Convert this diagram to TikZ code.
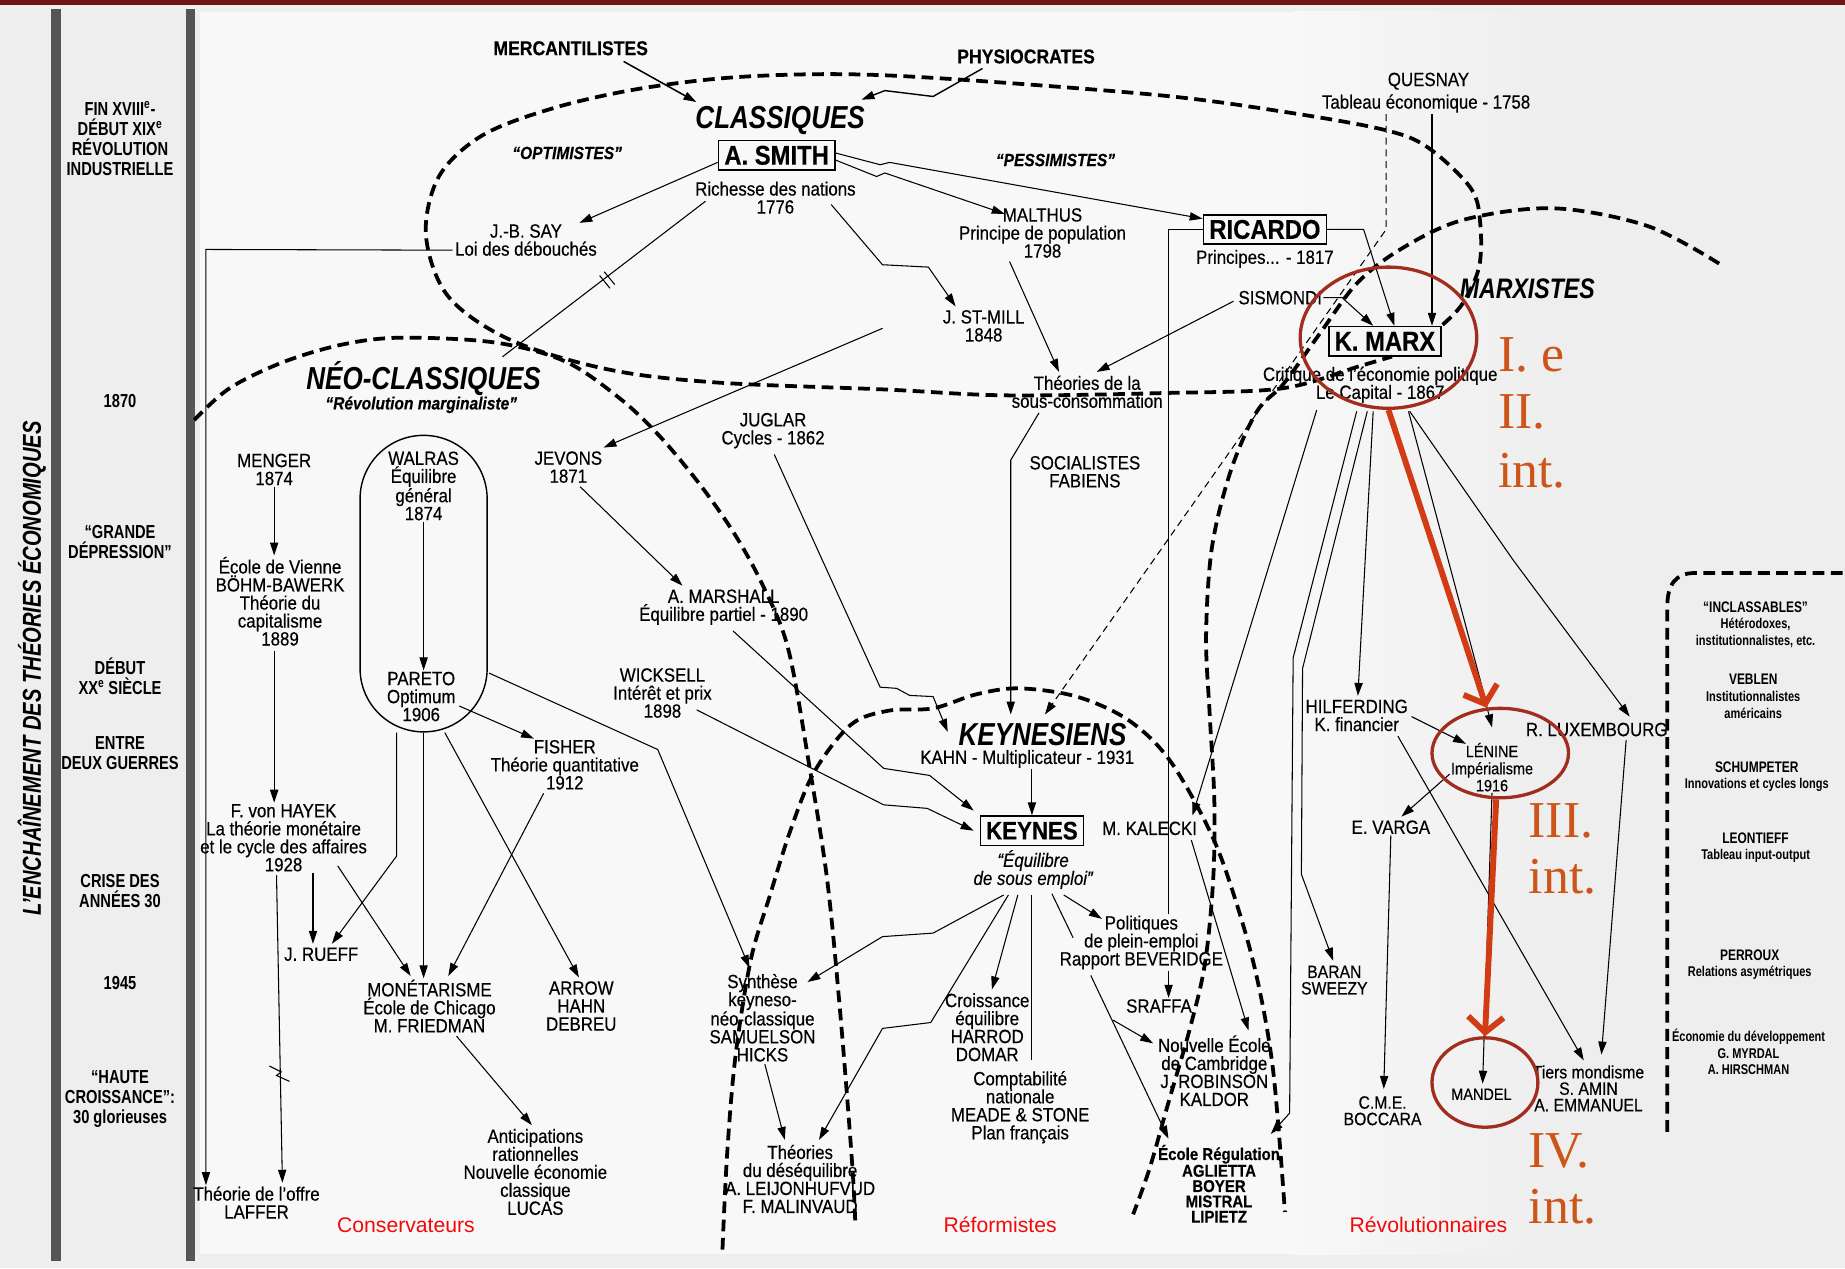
\documentclass[tikz,border=0pt]{standalone}
\usepackage{fontspec}
\setmainfont{Liberation Sans}
\newfontfamily\mainf{Liberation Sans}[FakeStretch=0.88, FakeBold=0.35]
\newfontfamily\cond{Liberation Sans}[FakeStretch=0.78]
\newfontfamily\condg{Liberation Sans}[FakeStretch=0.82]
\newfontfamily\serifred{Liberation Serif}
\usetikzlibrary{arrows.meta,calc,shapes.geometric}
\definecolor{bg}{RGB}{238,238,238}
\definecolor{barc}{RGB}{85,85,85}
\definecolor{circred}{RGB}{160,45,30}
\definecolor{arrred}{RGB}{210,60,20}
\definecolor{annred}{RGB}{205,85,25}
\definecolor{labred}{RGB}{240,10,10}
\definecolor{topred}{RGB}{115,20,20}
\definecolor{lite}{RGB}{248,248,248}
\tikzset{
 txt/.style={font=\mainf\fontsize{16.3}{15.3}\selectfont, align=center, inner sep=1pt},
 stxt/.style={font=\mainf\fontsize{14}{14.5}\selectfont, align=center, inner sep=1pt},
 mtxt/.style={font=\mainf\fontsize{15.2}{14}\selectfont, align=center, inner sep=1pt},
 rtxt/.style={font=\mainf\bfseries\fontsize{14.5}{13}\selectfont, align=center, inner sep=1pt},
 btxt/.style={font=\mainf\bfseries\fontsize{17}{16}\selectfont, inner sep=1pt},
 grp/.style={font=\condg\bfseries\itshape\fontsize{27}{26}\selectfont, inner sep=1pt},
 qtxt/.style={font=\mainf\bfseries\itshape\fontsize{15}{15}\selectfont, inner sep=1pt},
 itxt/.style={font=\mainf\itshape\fontsize{16.3}{15.3}\selectfont, align=center, inner sep=1pt},
 boxn/.style={draw, line width=1.3pt, font=\mainf\bfseries\fontsize{23}{22}\selectfont, inner xsep=5pt, inner ysep=2pt, minimum height=25pt},
 per/.style={font=\cond\bfseries\fontsize{16}{17}\selectfont, align=center, inner sep=1pt},
 inct/.style={font=\cond\bfseries\fontsize{13}{14}\selectfont, align=center, inner sep=1pt},
 incs/.style={font=\cond\bfseries\fontsize{12}{14}\selectfont, align=center, inner sep=1pt},
 labr/.style={font=\fontsize{18}{20}\selectfont, text=labred, inner sep=1pt},
 annr/.style={font=\serifred\fontsize{44}{48}\selectfont, text=annred, anchor=base west, inner sep=0pt},
 arr/.style={-{Triangle[length=11pt,width=7pt]}, line width=0.9pt},
 ln/.style={line width=0.9pt},
 sch/.style={line width=3.2pt, dash pattern=on 10pt off 5.5pt},
 dsh/.style={line width=0.9pt, dash pattern=on 6pt off 4pt},
 redc/.style={draw=circred, line width=2.8pt, ellipse, inner sep=0pt},
 reda/.style={draw=arrred, line width=5pt, -{Straight Barb[length=13pt,width=30pt]}},
}
\begin{document}
\begin{tikzpicture}[x=1pt,y=-1pt]
\fill[bg] (0,0) rectangle (1568,1078);
\useasboundingbox (0,0) rectangle (1568,1078);
\fill[lite] (170,10) rectangle (1100,1066);
\shade[left color=lite, right color=bg] (1099,10) rectangle (1320,1066);
\fill[topred] (0,0) rectangle (1568,4);
\draw[barc, line width=8pt] (47.5,8) -- (47.5,1072);
\draw[barc, line width=8pt] (162,8) -- (162,1072);

\node[font=\cond\bfseries\itshape\fontsize{22}{24}\selectfont, rotate=90] (title) at (27,568) {L’ENCHAÎNEMENT DES THÉORIES ÉCONOMIQUES};

\node[per] (p1) at (102,118) {FIN XVIII\textsuperscript{e}-\\DÉBUT XIX\textsuperscript{e}\\RÉVOLUTION\\INDUSTRIELLE};
\node[per] (p2) at (102,341) {1870};
\node[per] (p3) at (102,461) {“GRANDE\\DÉPRESSION”};
\node[per] (p4) at (102,575) {DÉBUT\\XX\textsuperscript{e} SIÈCLE};
\node[per] (p5) at (102,640) {ENTRE\\DEUX GUERRES};
\node[per] (p6) at (102,757) {CRISE DES\\ANNÉES 30};
\node[per] (p7) at (102,835) {1945};
\node[per] (p8) at (102,934) {“HAUTE\\CROISSANCE”:\\30 glorieuses};

% school boundaries
\draw[sch] plot[smooth, tension=0.55] coordinates {(1226,276) (1243,258) (1257,227) (1258,190) (1250,160) (1213,125) (1175,110) (1091,95) (986,81) (806,67) (710,63) (620,66) (540,76) (470,92) (410,115) (373,150) (362,200) (381,252) (434,289) (517,314) (608,325) (752,331) (855,336) (990,334) (1090,330) (1156,311) (1183,303)};
\draw[sch] plot[smooth, tension=0.55] coordinates {(165,357) (195,330) (240,308) (290,293) (340,287) (420,291) (480,307) (526,338) (560,370) (595,412) (625,455) (649,499) (670,552) (688,652) (703,748) (714,860) (724,986) (727,1042)};
\draw[sch] plot[smooth, tension=0.55] coordinates {(614,1062) (618,980) (625,898) (638,816) (654,762) (672,705) (692,656) (723,616) (755,604) (793,602) (830,590) (866,585) (915,592) (959,612) (994,646) (1029,708) (1050,765) (1068,830) (1082,910) (1092,1030)};
\draw[sch] plot[smooth, tension=0.55] coordinates {(1461,224) (1400,192) (1320,177) (1243,187) (1190,212) (1153,241) (1122,283) (1091,326) (1068,350) (1046,400) (1030,465) (1025,540) (1028,606) (1032,680) (1031,748) (1024,819) (1011,875) (993,937) (977,993) (963,1032)};
\draw[sch] (1417,962) -- (1417,515) .. controls (1417,497) and (1424,487) .. (1440,487) -- (1568,487);

% top nodes
\node[btxt] (merc) at (485,41) {MERCANTILISTES};
\node[btxt] (phys) at (872,48) {PHYSIOCRATES};
\node[grp] (class) at (663,102) {CLASSIQUES};
\node[boxn] (smith) at (660,132) {A. SMITH};
\node[txt] (smithw) at (659,168) {Richesse des nations\\1776};
\node[qtxt] (opt) at (482,130) {“OPTIMISTES”};
\node[qtxt] (pess) at (897,136) {“PESSIMISTES”};
\node[txt] (say) at (447,204) {J.-B. SAY\\Loi des débouchés};
\node[txt] (malthus) at (886,198) {MALTHUS\\Principe de population\\1798};
\node[boxn] (ricardo) at (1075,195) {RICARDO};
\node[txt] (ricw) at (1075,220) {Principes... - 1817};
\node[txt] (quesnay) at (1214,69) {QUESNAY};
\node[txt] (quesnayw) at (1212,88) {Tableau économique - 1758};
\node[txt] (mill) at (836,277) {J. ST-MILL\\1848};
\node[txt] (sism) at (1088,253) {SISMONDI};
\node[grp, font=\condg\bfseries\itshape\fontsize{24}{24}\selectfont] (marxistes) at (1298,245) {MARXISTES};
\node[boxn] (marx) at (1177,290) {K. MARX};
\node[txt] (marxw) at (1173,327) {Critique de l’économie politique\\Le Capital - 1867};
\node[txt] (sous) at (924,333) {Théories de la\\sous-consommation};
\node[grp] (neo) at (360,322) {NÉO-CLASSIQUES};
\node[qtxt] (neow) at (358,344) {“Révolution marginaliste”};

% left
\node[txt] (menger) at (233,399) {MENGER\\1874};
\node[txt] (walras) at (360,413) {WALRAS\\Équilibre\\général\\1874};
\node[txt] (pareto) at (358,592) {PARETO\\Optimum\\1906};
\node[draw, line width=1.2pt, rounded corners=53.9pt, minimum width=108pt, minimum height=252pt, inner sep=0pt] (stad) at (360,496) {};
\node[txt] (jevons) at (483,397) {JEVONS\\1871};
\node[txt] (juglar) at (657,366) {JUGLAR\\Cycles - 1862};
\node[txt] (fab) at (922,401) {SOCIALISTES\\FABIENS};
\node[txt] (vienne) at (238,511) {École de Vienne\\BÖHM-BAWERK\\Théorie du\\capitalisme\\1889};
\node[txt] (marshall) at (615,516) {A. MARSHALL\\Équilibre partiel - 1890};
\node[txt] (wicksell) at (563,589) {WICKSELL\\Intérêt et prix\\1898};
\node[txt] (fisher) at (480,650) {FISHER\\Théorie quantitative\\1912};
\node[txt] (hayek) at (241,712) {F. von HAYEK\\La théorie monétaire\\et le cycle des affaires\\1928};
\node[txt] (rueff) at (273,811) {J. RUEFF};
\node[txt] (monet) at (365,855) {MONÉTARISME\\École de Chicago\\M. FRIEDMAN};
\node[txt] (ahd) at (494,855) {ARROW\\HAHN\\DEBREU};
\node[txt] (lucas) at (455,996) {Anticipations\\rationnelles\\Nouvelle économie\\classique\\LUCAS};
\node[txt] (laffer) at (218,1022) {Théorie de l’offre\\LAFFER};
\node[labr] (cons) at (345,1041) {Conservateurs};

% middle
\node[grp] (keyn) at (886,624) {KEYNESIENS};
\node[txt] (kahn) at (873,645) {KAHN - Multiplicateur - 1931};
\node[boxn, font=\mainf\bfseries\fontsize{21.5}{21}\selectfont] (keynes) at (877,706) {KEYNES};
\node[itxt] (keynesw) at (878,739) {“Équilibre\\de sous emploi”};
\node[txt] (kalecki) at (977,704) {M. KALECKI};
\node[txt] (pol) at (970,801) {Politiques\\de plein-emploi\\Rapport BEVERIDGE};
\node[txt] (sraffa) at (985,855) {SRAFFA};
\node[txt] (synth) at (648,865) {Synthèse\\keyneso-\\néo-classique\\SAMUELSON\\HICKS};
\node[txt] (harrod) at (839,873) {Croissance\\équilibre\\HARROD\\DOMAR};
\node[txt] (compta) at (867,941) {Comptabilité\\nationale\\MEADE \& STONE\\Plan français};
\node[txt] (cambr) at (1032,910) {Nouvelle École\\de Cambridge\\J. ROBINSON\\KALDOR};
\node[rtxt] (regul) at (1036,1006) {École Régulation\\AGLIETTA\\BOYER\\MISTRAL\\LIPIETZ};
\node[txt] (deseq) at (680,1002) {Théories\\du déséquilibre\\A. LEIJONHUFVUD\\F. MALINVAUD};
\node[labr] (refo) at (850,1041) {Réformistes};

% right
\node[txt] (hilf) at (1153,608) {HILFERDING\\K. financier};
\node[stxt] (lenine) at (1268,652) {LÉNINE\\Impérialisme\\1916};
\node[txt] (luxem) at (1357,620) {R. LUXEMBOURG};
\node[txt] (varga) at (1182,703) {E. VARGA};
\node[mtxt] (baran) at (1134,833) {BARAN\\SWEEZY};
\node[mtxt] (cme) at (1175,944) {C.M.E.\\BOCCARA};
\node[stxt] (mandel) at (1259,930) {MANDEL};
\node[mtxt] (tiers) at (1350,925) {Tiers mondisme\\S. AMIN\\A. EMMANUEL};
\node[labr] (revo) at (1214,1041) {Révolutionnaires};

% inclassables
\node[inct] (incl) at (1492,516) {“INCLASSABLES”};
\node[incs] (incl2) at (1492,538) {Hétérodoxes,\\institutionnalistes, etc.};
\node[inct] (veblen) at (1490,577) {VEBLEN};
\node[incs] (veblen2) at (1490,599) {Institutionnalistes\\américains};
\node[inct] (schum) at (1493,652) {SCHUMPETER};
\node[incs] (schum2) at (1493,667) {Innovations et cycles longs};
\node[inct] (leon) at (1492,712) {LEONTIEFF};
\node[incs] (leon2) at (1492,727) {Tableau input-output};
\node[inct] (perr) at (1487,812) {PERROUX};
\node[incs] (perr2) at (1487,827) {Relations asymétriques};
\node[incs] (dev) at (1486,894) {Économie du développement\\G. MYRDAL\\A. HIRSCHMAN};

% connectors top
\draw[arr, line width=1.3pt] ($(merc.south)+(45,4)$) -- ($(class.north west)+(2,-2)$);
\draw[arr, line width=1.2pt] ($(phys.south)+(-37,3)$) -- (793,82) -- (752,77) -- ($(class.north east)+(-4,-4)$);
\draw[arr] ($(smith.west)+(0,6)$) -- ($(say.north east)+(-16,0)$);
\draw[ln] ($(smithw.west)+(10,3)$) -- ($(neo.north)+(67,-3)$);
\draw[ln] (509.6,234.2) -- (518.4,245);
\draw[ln] (513.6,231) -- (522.4,241.8);
\draw[arr] ($(smith.east)+(0,4)$) -- (745,150) -- (752,147) -- ($(malthus.north west)+(40,6)$);
\draw[arr] ($(smith.east)+(0,-2)$) -- (748,140) -- (756,138) -- ($(ricardo.north west)+(0,4)$);
\draw[arr] ($(smithw.south east)+(-22,-9)$) -- (750,225) -- (789,227) -- ($(mill.north west)+(12,-2)$);
\draw[arr] ($(malthus.south)+(-28,2)$) -- ($(sous.north)+(-24,-2)$);
\draw[arr] ($(sism.west)+(-3,3)$) -- ($(sous.north)+(8,-2)$);
\draw[arr] (sism.east) -- ($(sism.east)+(16,0)$) -- ($(marx.north)+(-10,0)$);
\draw[arr] (ricardo.east) -- ($(ricardo.east)+(31,0)$) -- ($(marx.north)+(8,0)$);
\coordinate (qa) at ($(marx.north)+(40,0)$);
\draw[arr] (qa |- quesnayw.south) -- (qa);
\coordinate (qd) at ($(marx.north)+(1,0)$);
\draw[dsh, -{Triangle[length=11pt,width=7pt]}] (qd |- quesnayw.south) -- (qd |- ricardo) -- ($(keyn.north)+(2,-6)$);
\coordinate (ricv) at ($(ricardo.west)+(-29,0)$);
\draw[ln] (ricardo.west) -- (ricv) -- (ricv |- pol.north);
\draw[arr] (ricv |- pol.south) -- (ricv |- sraffa.north);
\draw[arr] ($(mill.west)+(-50,2)$) -- ($(jevons.north east)+(0,-2)$);
\draw[arr] ($(sous.south)+(-41,3)$) -- (859,391) -- ($(keyn.north)+(-27,-6)$);
\draw[arr] ($(juglar.south)+(1,4)$) -- (748,584) -- (762,585) -- (773,591) -- (793,592) -- ($(keyn.west)+(-8,-2)$);
\draw[arr] ($(marshall.south)+(8,4)$) -- (751,653) -- (790,659) -- ($(keynes.north west)+(-5,-4)$);
\draw[arr] ($(wicksell.south east)+(-14,-8)$) -- (751,684) -- (788,687) -- ($(keynes.west)+(-5,0)$);
\draw[arr] (kahn.south -| keynes.north) -- (keynes.north);
\draw[arr] ($(jevons.south)+(10,2)$) -- ($(marshall.north)+(-35,-2)$);

% left connectors
\draw[arr] (menger.south) -- (menger.south |- vienne.north);
\draw[arr] (walras.south) -- (walras.south |- pareto.north);
\coordinate (v1) at ($(vienne.south)+(-5,3)$);
\draw[arr] (v1) -- (v1 |- hayek.north);
\draw[arr] ($(pareto.east)+(2,8)$) -- ($(fisher.north west)+(38,0)$);
\draw[arr] ($(stad.east)+(1,76)$) -- (559,637) -- ($(synth.north)+(-11,-4)$);
\draw[arr] ($(stad.south)+(-23,0)$) -- ($(stad.south)+(-23,105)$) -- ($(rueff.north)+(9,-2)$);
\draw[arr] (stad.south) -- (stad.south |- monet.north);
\draw[arr] ($(stad.south)+(18,0)$) -- ($(ahd.north)+(-2,-2)$);
\draw[arr] ($(fisher.south)+(-18,2)$) -- ($(monet.north)+(16,-2)$);
\draw[arr] ($(hayek.south)+(25,0)$) -- ($(rueff.north)+(-7,-2)$);
\draw[arr] ($(hayek.south)+(46,-6)$) -- ($(monet.north)+(-16,-2)$);
\draw[arr] ($(hayek.south)+(-6,2)$) -- ($(laffer.north)+(22,-2)$);
\draw[ln] (229,906) -- (239,911) -- (235,914) -- (246,919);
\coordinate (sayc) at (175,212);
\draw[arr] ($(say.south west)+(-1,-6)$) -- (sayc) -- (sayc |- laffer.north);
\draw[arr] ($(monet.south)+(23,2)$) -- ($(lucas.north)+(-3,-2)$);

% middle connectors
\draw[arr] ($(keynesw.south)+(-25,4)$) -- (793,793) -- (750,796) -- ($(synth.north east)+(-8,8)$);
\draw[arr] ($(keynesw.south)+(-21,4)$) -- (791,869) -- (750,874) -- ($(deseq.north)+(16,-3)$);
\draw[arr] ($(keynesw.south)+(-13,4)$) -- ($(harrod.north)+(4,-2)$);
\draw[ln] ($(keynesw.south)+(-1,4)$) -- ($(compta.north)+(10,-8)$);
\draw[arr] ($(keynesw.south)+(26,4)$) -- ($(pol.north west)+(37,4)$);
\coordinate (kr1) at (912,797);
\coordinate (kr2) at (927,829);
\coordinate (kr3) at (946,867);
\draw[ln] ($(keynesw.south)+(16,3)$) -- (kr1);
\draw[arr] (kr2) -- ($(regul.north west)+(10,-4)$);
\draw[arr] (kr3) -- ($(cambr.north west)+(-3,8)$);
\draw[arr] ($(kalecki.south east)+(-6,3)$) -- ($(cambr.north east)+(-20,-3)$);
\draw[arr] ($(synth.south)+(2,1)$) -- ($(deseq.north)+(-13,-3)$);

% marxist connectors
\draw[arr] ($(marxw.south)+(-54,5)$) -- ($(kalecki.north east)+(-5,-4)$);
\draw[arr] ($(marxw.south)+(-20,6)$) -- (1099,559) -- (1096,946) -- ($(regul.north east)+(-9,-8)$);
\draw[arr] ($(marxw.south)+(-11,6)$) -- (1107,568) -- (1106,743) -- ($(baran.north)+(-1,-3)$);
\draw[arr] ($(marxw.south)+(-6,6)$) -- ($(hilf.north)+(1,-2)$);
\draw[arr] ($(marxw.south)+(24,6)$) -- (1258,578) -- ($(lenine.north)+(0,-12)$);
\draw[arr] ($(marxw.south)+(25,6)$) -- (1286,476) -- ($(luxem.north)+(28,-4)$);
\draw[arr] ($(hilf.east)+(2,1)$) -- ($(lenine.north west)+(14,2)$);
\draw[arr] ($(hilf.south)+(35,3)$) -- ($(tiers.north)+(-4,-3)$);
\draw[arr] ($(lenine.west)+(0,6)$) -- ($(varga.north)+(9,-2)$);
\draw[arr] (lenine.south) -- ($(mandel.north)+(1,-3)$);
\draw[arr] ($(luxem.south)+(25,2)$) -- ($(tiers.north)+(11,-8)$);
\draw[arr] (varga.south) -- ($(cme.north)+(1,-5)$);

% red annotations
\node[redc, minimum width=150pt, minimum height=120pt] (cmarx) at (1180,287) {};
\node[redc, minimum width=116pt, minimum height=76pt] (clen) at (1275,640) {};
\node[redc, minimum width=90pt, minimum height=76pt] (cman) at (1262,920) {};
\draw[reda] (cmarx.south) -- (clen.107);
\draw[reda] (clen.265) -- (cman.north);
\node[annr] (a1) at (1273,316) {I. e};
\node[annr] (a2) at (1273,364) {II.};
\node[annr] (a3) at (1273,414) {int.};
\node[annr] (a4) at (1299,712) {III.};
\node[annr] (a5) at (1299,759) {int.};
\node[annr] (a6) at (1299,992) {IV.};
\node[annr] (a7) at (1299,1040) {int.};
\end{tikzpicture}
\end{document}
